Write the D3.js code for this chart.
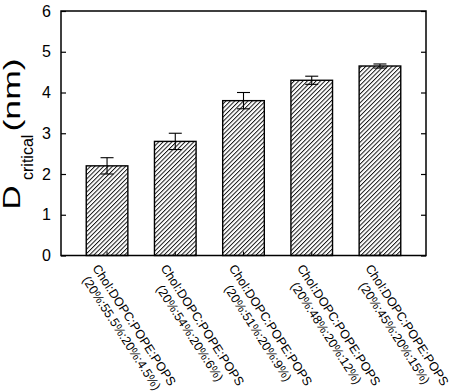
<!DOCTYPE html>
<html>
<head>
<meta charset="utf-8">
<script src="https://cdn.jsdelivr.net/npm/d3@7"></script>
<style>
  body { margin: 0; background: #fff; }
  text { font-family: "Liberation Sans", Arial, sans-serif; fill: #000; }
</style>
</head>
<body>
<div id="chart"></div>
<script>
// data
var compositions = ["Chol:DOPC:POPE:POPS", "Chol:DOPC:POPE:POPS", "Chol:DOPC:POPE:POPS", "Chol:DOPC:POPE:POPS", "Chol:DOPC:POPE:POPS"];
var ratios = ["(20%:55.5%:20%:4.5%)", "(20%:54%:20%:6%)", "(20%:51%:20%:9%)", "(20%:48%:20%:12%)", "(20%:45%:20%:15%)"];
var dCritical = [2.2, 2.8, 3.8, 4.3, 4.65];
var dError = [0.2, 0.2, 0.2, 0.1, 0.05];
var yTicks = [0, 1, 2, 3, 4, 5, 6];

var margin = { top: 11, right: 33, bottom: 136.5, left: 61 };
var width = 459 - margin.left - margin.right;
var height = 392 - margin.top - margin.bottom;

var data = dCritical.map(function(v, i) {
  return { idx: i, name: compositions[i], ratio: ratios[i], value: v, err: dError[i] };
});

var svgRoot = d3.select("#chart")
  .append("svg")
  .attr("width", 459)
  .attr("height", 392);

// hatch pattern
svgRoot.append("defs").append("pattern")
  .attr("id", "hatch")
  .attr("patternUnits", "userSpaceOnUse")
  .attr("width", 3.1)
  .attr("height", 10)
  .attr("patternTransform", "rotate(45)")
  .append("line")
  .attr("x1", 0.5).attr("y1", 0)
  .attr("x2", 0.5).attr("y2", 10)
  .attr("stroke", "#000")
  .attr("stroke-width", 0.9);

var svg = svgRoot.append("g")
  .attr("transform", "translate(" + margin.left + "," + margin.top + ")");

var x = d3.scaleBand()
  .domain(data.map(function(d) { return d.idx; }))
  .range([0, width])
  .paddingInner(0.39)
  .paddingOuter(0.37);

var y = d3.scaleLinear()
  .domain([0, 6])
  .range([height, 0]);

// bars
svg.selectAll(".bar")
  .data(data)
  .enter().append("rect")
  .attr("class", "bar")
  .attr("x", function(d) { return x(d.idx); })
  .attr("y", function(d) { return y(d.value); })
  .attr("width", x.bandwidth())
  .attr("height", function(d) { return height - y(d.value); })
  .attr("fill", "url(#hatch)")
  .attr("stroke", "#000")
  .attr("stroke-width", 1.4);

// error bars
var cap = 6.5;
var eb = svg.selectAll(".err")
  .data(data)
  .enter().append("g")
  .attr("class", "err")
  .attr("stroke", "#000")
  .attr("stroke-width", 1.1);

eb.append("line")
  .attr("x1", function(d) { return x(d.idx) + x.bandwidth() / 2; })
  .attr("x2", function(d) { return x(d.idx) + x.bandwidth() / 2; })
  .attr("y1", function(d) { return y(d.value - d.err); })
  .attr("y2", function(d) { return y(d.value + d.err); });

eb.append("line")
  .attr("x1", function(d) { return x(d.idx) + x.bandwidth() / 2 - cap; })
  .attr("x2", function(d) { return x(d.idx) + x.bandwidth() / 2 + cap; })
  .attr("y1", function(d) { return y(d.value + d.err); })
  .attr("y2", function(d) { return y(d.value + d.err); });

eb.append("line")
  .attr("x1", function(d) { return x(d.idx) + x.bandwidth() / 2 - cap; })
  .attr("x2", function(d) { return x(d.idx) + x.bandwidth() / 2 + cap; })
  .attr("y1", function(d) { return y(d.value - d.err); })
  .attr("y2", function(d) { return y(d.value - d.err); });

// axes, ticks pointing inward
var yAxis = svg.append("g")
  .call(d3.axisLeft(y).tickValues(yTicks).tickFormat(d3.format("d")).tickSizeInner(-5).tickSizeOuter(0).tickPadding(10));
yAxis.select(".domain").remove();
yAxis.selectAll("text").attr("font-size", "16px").style("font-family", "'Liberation Sans', Arial, sans-serif");
yAxis.selectAll("line").attr("stroke-width", 1.2);

var yAxisR = svg.append("g")
  .attr("transform", "translate(" + width + ",0)")
  .call(d3.axisRight(y).tickValues(yTicks).tickSizeInner(-5).tickSizeOuter(0).tickFormat(""));
yAxisR.select(".domain").remove();
yAxisR.selectAll("line").attr("stroke-width", 1.2);

var xAxis = svg.append("g")
  .attr("transform", "translate(0," + height + ")")
  .call(d3.axisBottom(x).tickSizeInner(-4).tickSizeOuter(0).tickFormat(""));
xAxis.select(".domain").remove();
xAxis.selectAll("line").attr("stroke-width", 1.1);

// frame
svg.append("rect")
  .attr("x", 0).attr("y", 0)
  .attr("width", width).attr("height", height)
  .attr("fill", "none")
  .attr("stroke", "#000")
  .attr("stroke-width", 1.5);

// rotated category labels
var lab = svg.selectAll(".cat")
  .data(data)
  .enter().append("g")
  .attr("class", "cat")
  .attr("transform", function(d) {
    return "translate(" + (x(d.idx) + x.bandwidth() / 2) + "," + (height + 2.5) + ")rotate(57)";
  });

lab.append("text")
  .attr("x", 71).attr("y", 18)
  .attr("text-anchor", "middle")
  .attr("font-size", "12.5px")
  .text(function(d) { return d.name; });

lab.append("text")
  .attr("x", 71).attr("y", 33)
  .attr("text-anchor", "middle")
  .attr("font-size", "12.5px")
  .text(function(d) { return d.ratio; });

// y axis title: D_critical (nm)
var yt = svgRoot.append("g")
  .attr("transform", "translate(20,209.5)rotate(-90)");
yt.append("text")
  .attr("transform", "scale(1.45,1)")
  .attr("font-size", "23px")
  .text("D");
yt.append("text")
  .attr("x", 29.5).attr("y", 13)
  .attr("font-size", "16px")
  .text("critical");
yt.append("text")
  .attr("transform", "translate(78,0)scale(1.55,1)")
  .attr("font-size", "23px")
  .text("(nm)");
</script>
</body>
</html>
